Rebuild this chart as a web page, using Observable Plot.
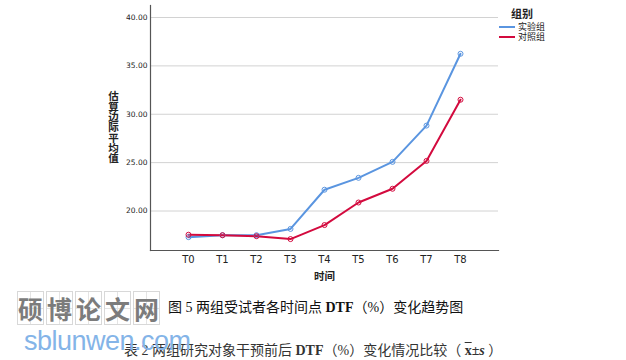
<!DOCTYPE html>
<html>
<head>
<meta charset="utf-8">
<script src="https://cdn.jsdelivr.net/npm/d3@7"></script>
<script src="https://cdn.jsdelivr.net/npm/@observablehq/plot@0.6"></script>
<style>
  body { margin: 0; background: #fff; }
  #wrap { position: relative; width: 626px; height: 360px; overflow: hidden; background: #fff; font-family: "Noto Sans CJK SC", sans-serif; }
  #chart { position: absolute; left: 0; top: 0; }
  .legend { position: absolute; left: 499px; top: 5px; font-size: 9px; color: #222; }
  .legend .title { font-weight: bold; font-size: 11px; margin-left: 12px; margin-bottom: 1px; }
  .legend .row { display: flex; align-items: center; height: 10px; line-height: 10px; }
  .legend .sw { width: 16px; height: 2px; margin-right: 3px; }
  .cap { position: absolute; white-space: nowrap; font-family: "Liberation Serif", "Noto Sans CJK SC", serif; color: #111; }
  .cap b { font-weight: bold; }
  .wm { position: absolute; left: 17px; top: 291px; display: flex; }
  .wm span { display: block; width: 27px; height: 34px; margin-right: 2px; border: 1px solid #d8d8d8; box-sizing: border-box;
    font: bold 25px "Noto Sans CJK SC", sans-serif; color: #7c7c7c; text-align: center; line-height: 33px;
    background-image: linear-gradient(#e4e4e4,#e4e4e4), linear-gradient(#e4e4e4,#e4e4e4);
    background-size: 1px 100%, 100% 1px; background-position: center, center; background-repeat: no-repeat; }
  .wm2 { position: absolute; left: 24px; top: 326px; font: 27px "Liberation Sans", sans-serif; color: #84b4e8; letter-spacing: -0.5px; }
</style>
</head>
<body>
<div id="wrap">
  <div id="chart"></div>
  <div class="legend" id="legend"></div>
  <div class="cap" style="left:168px; top:296px; font-size:14px;">图 5 两组受试者各时间点 <b>DTF</b>（%）变化趋势图</div>
  <div class="cap" style="left:124px; top:339px; font-size:14px; color:#333;">表 2 两组研究对象干预前后 <b>DTF</b>（%）变化情况比较（ <b><span style="text-decoration:overline">x</span>±<i>s</i></b> ）</div>
  <div class="wm" id="wm"></div>
  <div class="wm2">sblunwen.com</div>
</div>
<script>
const times = ["T0","T1","T2","T3","T4","T5","T6","T7","T8"];
const groups = ["实验组","对照组"];
const expValues  = [17.30, 17.50, 17.50, 18.15, 22.20, 23.43, 25.08, 28.83, 36.25];
const ctrlValues = [17.55, 17.50, 17.40, 17.10, 18.55, 20.88, 22.30, 25.18, 31.50];
const yTicks = [20, 25, 30, 35, 40];
const colors = ["#5a95e0", "#d30a3e"];
const yLabel = "估算边际平均值";
const xLabel = "时间";
const legendTitle = "组别";
const watermark = ["硕","博","论","文","网"];

const data = [];
times.forEach((t, i) => data.push({time: t, value: expValues[i], group: groups[0]}));
times.forEach((t, i) => data.push({time: t, value: ctrlValues[i], group: groups[1]}));

const chart = Plot.plot({
  width: 626,
  height: 288,
  marginLeft: 150,
  marginRight: 128,
  marginTop: 5,
  marginBottom: 38,
  style: {background: "transparent", fontFamily: "DejaVu Sans, sans-serif", color: "#222"},
  x: {type: "point", domain: times, padding: 1.03},
  y: {domain: [15.92, 41.24]},
  color: {domain: groups, range: colors},
  marks: [
    Plot.gridY(yTicks, {stroke: "#d2d2d2", strokeOpacity: 1, strokeWidth: 1}),
    Plot.frame({anchor: "left", stroke: "#555", strokeWidth: 1.2}),
    Plot.frame({anchor: "bottom", stroke: "#555", strokeWidth: 1.2}),
    Plot.axisY(yTicks, {tickSize: 0, tickPadding: 3, fontSize: 7.5, tickFormat: d => d.toFixed(2), label: null}),
    Plot.axisX({tickSize: 0, tickPadding: 5, fontSize: 10, label: null, fontFamily: "DejaVu Sans, sans-serif"}),
    Plot.text([xLabel], {frameAnchor: "bottom", dy: 29, fontSize: 10.5, fontWeight: "bold", fontFamily: "Noto Sans CJK SC"}),
    Plot.text([yLabel], {frameAnchor: "left", dx: -37, text: d => d.split("").join("\n"), lineHeight: 0.98, fontSize: 10.5, fontWeight: "bold", fontFamily: "Noto Sans CJK SC", textAnchor: "middle"}),
    Plot.line(data, {x: "time", y: "value", z: "group", stroke: "group", strokeWidth: 2}),
    Plot.dot(data, {x: "time", y: "value", stroke: "group", r: 2.5, strokeWidth: 1, fill: "none"})
  ]
});
document.getElementById("chart").appendChild(chart);

const lg = document.getElementById("legend");
const t = document.createElement("div"); t.className = "title"; t.textContent = legendTitle; lg.appendChild(t);
groups.forEach((g, i) => {
  const r = document.createElement("div"); r.className = "row";
  const s = document.createElement("div"); s.className = "sw"; s.style.background = colors[i];
  const l = document.createElement("span"); l.textContent = g;
  r.appendChild(s); r.appendChild(l); lg.appendChild(r);
});
const wm = document.getElementById("wm");
watermark.forEach(c => { const s = document.createElement("span"); s.textContent = c; wm.appendChild(s); });
</script>
</body>
</html>
